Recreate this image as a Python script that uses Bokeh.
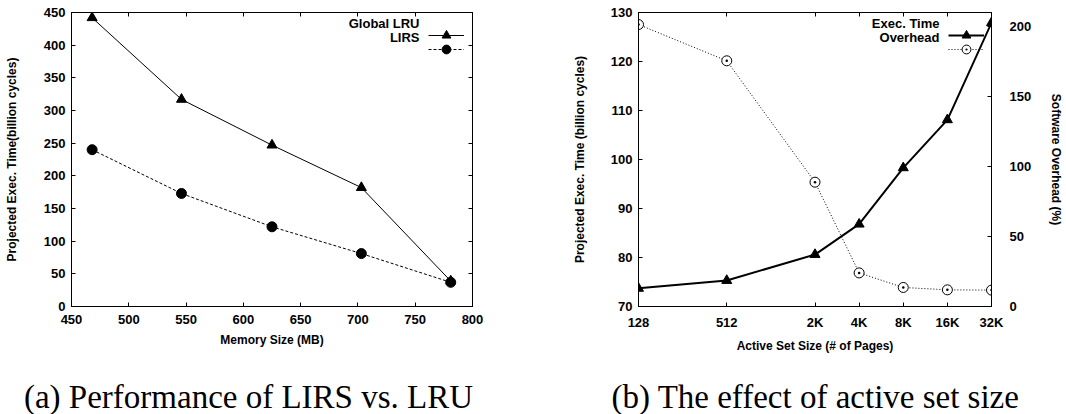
from bokeh.plotting import figure
from bokeh.models import (LinearAxis, Range1d, FixedTicker, Legend, LegendItem, Label)
from bokeh.layouts import row, column
from bokeh.embed import file_html
from bokeh.resources import INLINE

# ---------------- data ----------------
memory_mb = [468, 546, 625, 703, 781]
global_lru = [442, 317, 247, 182, 39]
lirs = [240, 173, 122, 81, 37]

pages = [128, 512, 2048, 4096, 8192, 16384, 32768]
page_labels = ["128", "512", "2K", "4K", "8K", "16K", "32K"]
exec_time = [73.7, 75.3, 80.6, 86.8, 98.3, 108.1, 127.9]
overhead = [201.4, 175.5, 88.8, 24.0, 13.6, 11.9, 11.7]

mem_ticks = [450, 500, 550, 600, 650, 700, 750, 800]
lru_ticks = [0, 50, 100, 150, 200, 250, 300, 350, 400, 450]
exec_ticks = [70, 80, 90, 100, 110, 120, 130]
oh_ticks = [0, 50, 100, 150, 200]

caption_a = "(a) Performance of LIRS vs. LRU"
caption_b = "(b) The effect of active set size"

FONT = "Liberation Sans"
SERIF = "Liberation Serif"

TOP = 12
FRAME_H = 294
BOTTOM = 56
PLOT_H = TOP + FRAME_H + BOTTOM
CAP_H = 414 - PLOT_H


def style_axis(ax):
    ax.major_tick_in = 4
    ax.major_tick_out = 0
    ax.minor_tick_in = 0
    ax.minor_tick_out = 0
    ax.axis_line_color = "black"
    ax.major_tick_line_color = "black"
    ax.major_label_text_font = FONT
    ax.major_label_text_font_style = "bold"
    ax.major_label_text_font_size = "13px"
    ax.major_label_text_color = "black"
    ax.axis_label_text_font = FONT
    ax.axis_label_text_font_style = "bold"
    ax.axis_label_text_font_size = "12px"
    ax.axis_label_text_color = "black"


def mirror_axis(ticks):
    ax = LinearAxis(ticker=FixedTicker(ticks=ticks))
    style_axis(ax)
    ax.major_label_text_font_size = "0px"
    ax.major_label_text_color = None
    ax.major_label_standoff = 0
    return ax


def text_label(txt, x, y, align="right", size="13px", font=FONT, style="bold",
               baseline="middle"):
    return Label(text=txt, x=x, y=y, x_units="screen", y_units="screen",
                 text_align=align, text_baseline=baseline, text_font=font,
                 text_font_size=size, text_font_style=style, text_color="black")


def sample_legend(renderers, x, y):
    return Legend(items=[LegendItem(label="", renderers=renderers)],
                  location=(x, y), glyph_width=36, glyph_height=22, label_height=22,
                  label_width=0, label_standoff=0, padding=0, margin=0, spacing=0,
                  border_line_color=None, background_fill_alpha=0)


def caption_fig(txt, cx):
    c = figure(width=533, height=CAP_H, x_range=Range1d(0, 1), y_range=Range1d(0, 1),
               output_backend="svg", toolbar_location=None,
               x_axis_location=None, y_axis_location=None, min_border=0)
    c.grid.visible = False
    c.outline_line_color = None
    c.add_layout(text_label(txt, cx, 18, align="center", size="33px", font=SERIF,
                            style="normal", baseline="middle"))
    return c


# ---------------- (a) ----------------
p1 = figure(width=533, height=PLOT_H, x_range=Range1d(450, 800), y_range=Range1d(0, 450),
            output_backend="svg", toolbar_location=None,
            min_border_left=71, min_border_right=61, min_border_top=TOP,
            min_border_bottom=BOTTOM)
p1.grid.visible = False
p1.outline_line_color = "black"

p1.xaxis.ticker = FixedTicker(ticks=mem_ticks)
p1.yaxis.ticker = FixedTicker(ticks=lru_ticks)
for ax in p1.xaxis + p1.yaxis:
    style_axis(ax)
p1.xaxis.axis_label = "Memory Size (MB)"
p1.yaxis.axis_label = "Projected Exec. Time(billion cycles)"
p1.xaxis.major_label_standoff = 8
p1.yaxis.major_label_standoff = 6
p1.xaxis.axis_label_standoff = 6
p1.yaxis.axis_label_standoff = 22
p1.add_layout(mirror_axis(mem_ticks), "above")
p1.add_layout(mirror_axis(lru_ticks), "right")

l1 = p1.line(memory_mb, global_lru, line_color="black", line_width=1)
s1 = p1.scatter(memory_mb, global_lru, marker="triangle", size=10, color="black")
l2 = p1.line(memory_mb, lirs, line_color="black", line_width=1, line_dash="3 2")
s2 = p1.scatter(memory_mb, lirs, marker="circle", size=10, color="black")

p1.add_layout(sample_legend([l1, s1], 357, FRAME_H - 12 - 22))
p1.add_layout(sample_legend([l2, s2], 357, FRAME_H - 26 - 22))
p1.add_layout(text_label("Global LRU", 348, FRAME_H - 11))
p1.add_layout(text_label("LIRS", 348, FRAME_H - 25))

# ---------------- (b) ----------------
p2 = figure(width=533, height=PLOT_H, x_axis_type="log",
            x_range=Range1d(128, 32768), y_range=Range1d(70, 130),
            output_backend="svg", toolbar_location=None,
            min_border_left=105, min_border_right=74, min_border_top=TOP,
            min_border_bottom=BOTTOM)
p2.extra_y_ranges = {"oh": Range1d(0, 210)}
p2.grid.visible = False
p2.outline_line_color = "black"

p2.xaxis.ticker = FixedTicker(ticks=pages)
p2.xaxis.major_label_overrides = {t: lab for t, lab in zip(pages, page_labels)}
p2.yaxis.ticker = FixedTicker(ticks=exec_ticks)
for ax in p2.xaxis + p2.yaxis:
    style_axis(ax)
p2.xaxis.axis_label = "Active Set Size (# of Pages)"
p2.yaxis.axis_label = "Projected Exec. Time (billion cycles)"
p2.xaxis.major_label_standoff = 8
p2.yaxis.major_label_standoff = 6
p2.xaxis.axis_label_standoff = 6
p2.yaxis.axis_label_standoff = 21

right_ax = LinearAxis(y_range_name="oh", ticker=FixedTicker(ticks=oh_ticks),
                      axis_label="Software Overhead (%)")
style_axis(right_ax)
right_ax.major_label_standoff = 18
right_ax.axis_label_standoff = 15
p2.add_layout(right_ax, "right")
p2.add_layout(mirror_axis(pages), "above")

l3 = p2.line(pages, exec_time, line_color="black", line_width=2)
s3 = p2.scatter(pages, exec_time, marker="triangle", size=10, color="black")
l4 = p2.line(pages, overhead, y_range_name="oh", line_color="black", line_width=1,
             line_dash="1 2")
s4 = p2.scatter(pages, overhead, y_range_name="oh", marker="circle_dot", size=10,
                fill_color="white", line_color="black", line_width=1)

p2.add_layout(sample_legend([l3, s3], 310, FRAME_H - 12 - 22))
p2.add_layout(sample_legend([l4, s4], 310, FRAME_H - 26 - 22))
p2.add_layout(text_label("Exec. Time", 301, FRAME_H - 11))
p2.add_layout(text_label("Overhead", 301, FRAME_H - 25))

c1 = caption_fig(caption_a, 248)
c2 = caption_fig(caption_b, 282)

layout = column(row(p1, p2, spacing=0), row(c1, c2, spacing=0), spacing=0)
open("out.html", "w").write(file_html(layout, INLINE))
